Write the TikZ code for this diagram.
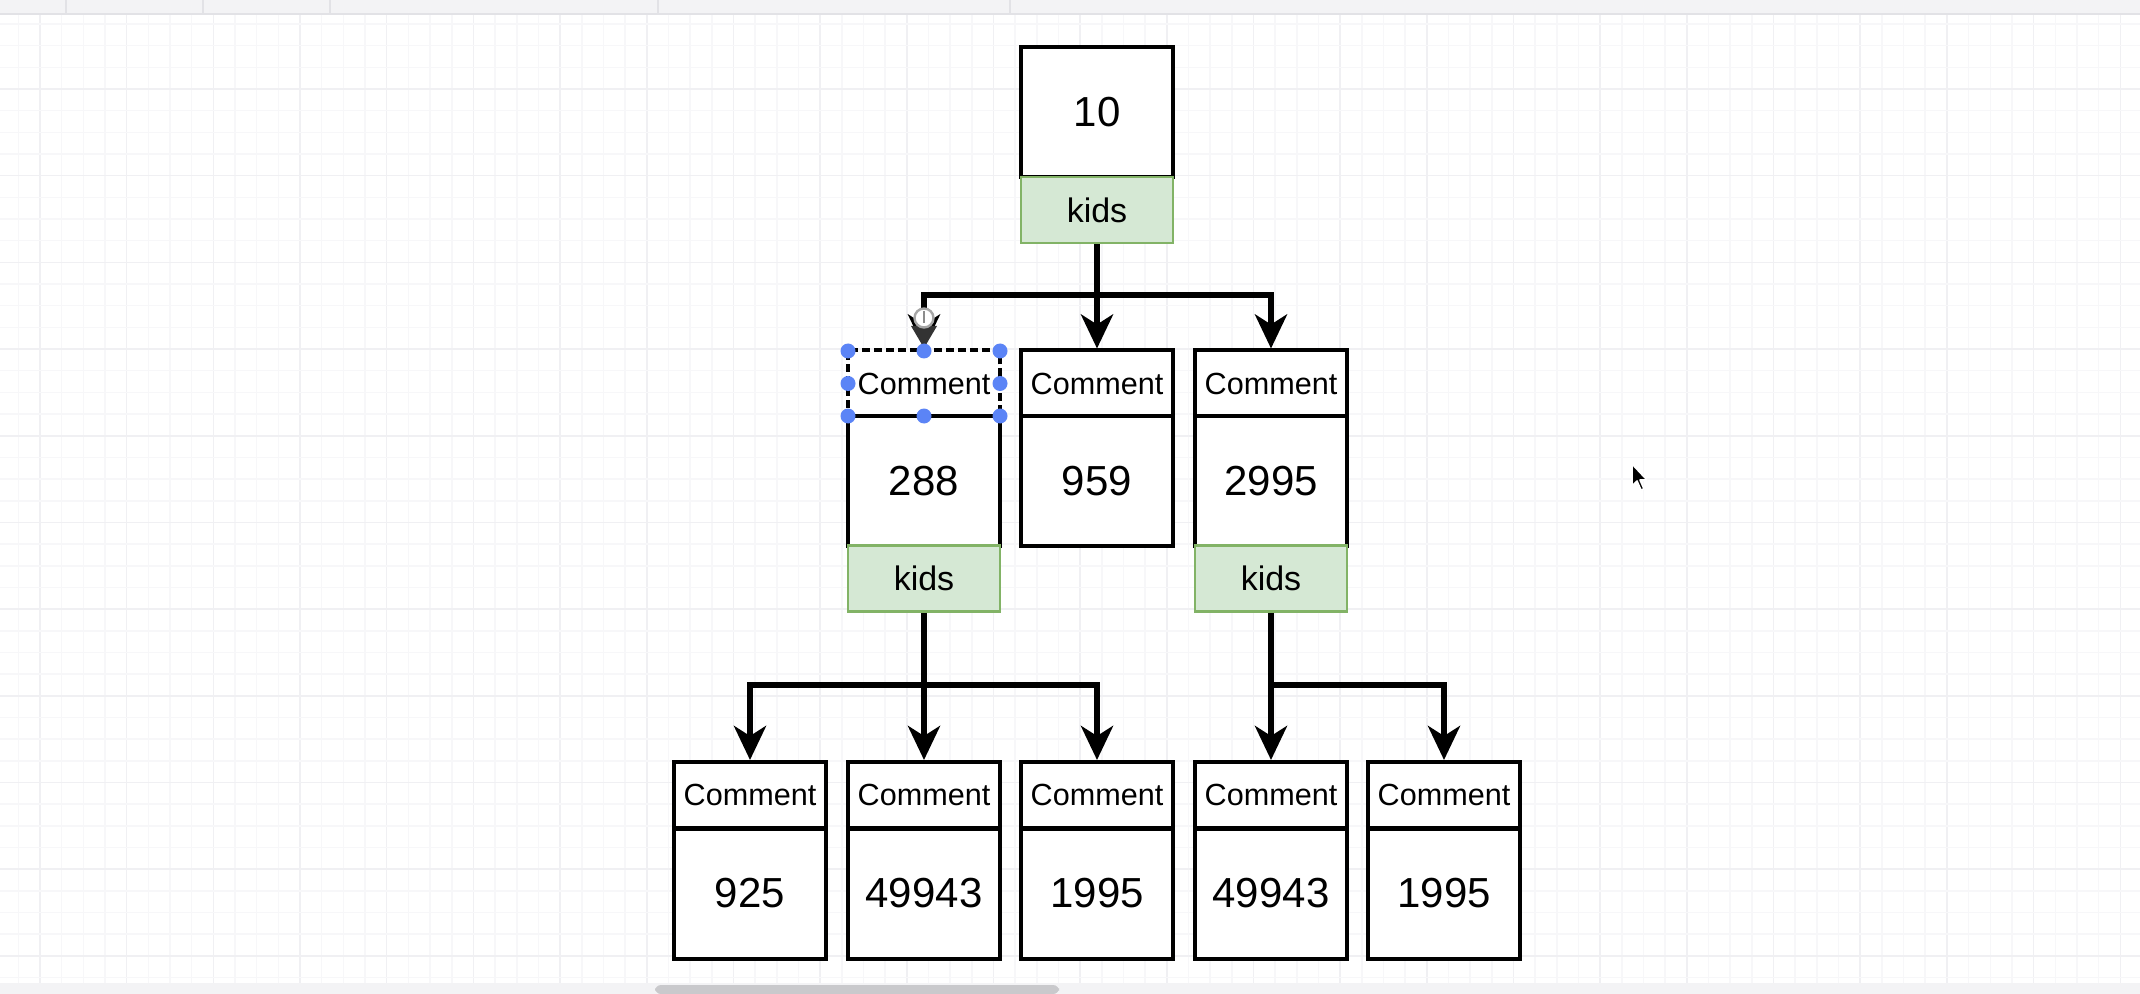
\documentclass[tikz,border=0pt]{standalone}
\usepackage{fontspec}
\setmainfont{Liberation Sans}
\usetikzlibrary{arrows.meta}
\definecolor{kidsfill}{HTML}{D5E8D4}
\definecolor{kidsborder}{HTML}{82B366}
\definecolor{gridminor}{HTML}{F7F7F9}
\definecolor{gridmajor}{HTML}{F0F0F3}
\definecolor{handle}{HTML}{5B84F6}
\definecolor{barbg}{HTML}{F3F3F5}
\definecolor{barline}{HTML}{E2E2E6}
\definecolor{thumb}{HTML}{C9C9CC}
\tikzset{
  hdr/.style={draw, line width=2pt, minimum width=76pt, minimum height=33pt, inner sep=0pt, fill=white, font=\fontsize{15.3}{18}\selectfont},
  val/.style={draw, line width=2pt, minimum width=76pt, minimum height=65pt, inner sep=0pt, fill=white, font=\fontsize{21}{25}\selectfont},
  kidsbox/.style={draw=kidsborder, fill=kidsfill, line width=1.4pt, minimum width=76pt, minimum height=33pt, inner sep=0pt, font=\fontsize{17}{20}\selectfont},
  arr/.style={line width=3.2pt, -{Stealth[length=17pt,width=16pt,inset=5pt]}},
  hdl/.style={fill=handle, draw=none},
}
\begin{document}
\begin{tikzpicture}[x=0.5pt,y=-0.5pt]
\useasboundingbox (0,0) rectangle (2140,994);
\fill[white] (0,0) rectangle (2140,994);
% grid
\foreach \i in {0,...,98}{
  \pgfmathsetmacro{\gx}{18.3+21.67*\i}
  \pgfmathtruncatemacro{\m}{mod(\i,4)}
  \ifnum\m=1
    \draw[gridmajor, line width=0.8pt] (\gx,14) -- (\gx,983);
  \else
    \draw[gridminor, line width=0.8pt] (\gx,14) -- (\gx,983);
  \fi
}
\foreach \j in {1,...,45}{
  \pgfmathsetmacro{\gy}{2.3+21.67*\j}
  \pgfmathtruncatemacro{\m}{mod(\j,4)}
  \ifnum\m=0
    \draw[gridmajor, line width=0.8pt] (0,\gy) -- (2140,\gy);
  \else
    \draw[gridminor, line width=0.8pt] (0,\gy) -- (2140,\gy);
  \fi
}
% top and bottom bars
\fill[barbg] (0,0) rectangle (2140,14);
\draw[barline, line width=1pt] (0,14) -- (2140,14);
\foreach \sx in {66,203,330,658,1010}{\draw[barline, line width=0.8pt] (\sx,0) -- (\sx,14);}
\fill[barbg] (0,983) rectangle (2140,994);
\fill[thumb, rounded corners=3pt] (655,985) rectangle (1059,994);

% top node
\node[val] (v0) at (1097,112) {10};
\node[kidsbox] (k0) at (1097,210) {kids};

% row 2
\node[hdr, dashed, dash pattern=on 4pt off 2pt] (h1) at (924,383.5) {Comment};
\node[val] (v1) at (924,481) {288};
\node[kidsbox] (k1) at (924,578.5) {kids};
\node[hdr] (h2) at (1097,383.5) {Comment};
\node[val] (v2) at (1097,481) {959};
\node[hdr] (h3) at (1271,383.5) {Comment};
\node[val] (v3) at (1271,481) {2995};
\node[kidsbox] (k3) at (1271,578.5) {kids};

% row 3
\node[hdr] (h4) at (750,795) {Comment};
\node[val] (v4) at (750,893.5) {925};
\node[hdr] (h5) at (924,795) {Comment};
\node[val] (v5) at (924,893.5) {49943};
\node[hdr] (h6) at (1097,795) {Comment};
\node[val] (v6) at (1097,893.5) {1995};
\node[hdr] (h7) at (1271,795) {Comment};
\node[val] (v7) at (1271,893.5) {49943};
\node[hdr] (h8) at (1444,795) {Comment};
\node[val] (v8) at (1444,893.5) {1995};

% connectors
\coordinate (j0) at (1097,295);
\coordinate (j1) at (924,685);
\coordinate (j3) at (1271,685);
\draw[arr] (k0.south) -- (h2.north);
\draw[arr] (j0) -| (h1.north);
\draw[arr] (j0) -| (h3.north);
\draw[arr] (k1.south) -- (h5.north);
\draw[arr] (j1) -| (h4.north);
\draw[arr] (j1) -| (h6.north);
\draw[arr] (k3.south) -- (h7.north);
\draw[arr] (j3) -| (h8.north);

% connection icon over the first arrow
\fill[black!80] (911,326) -- (937,326) -- (924,348) -- cycle;
\draw[gray!70, fill=white, line width=1.2pt] (924,318) circle (9.5);
\draw[gray!90, line width=1pt] (924,311) -- (924,323);

% selection handles
\foreach \hx in {848,924,1000}{
  \foreach \hy in {351,416}{\fill[hdl] (\hx,\hy) circle (7.5);}
}
\fill[hdl] (848,383.5) circle (7.5);
\fill[hdl] (1000,383.5) circle (7.5);

% mouse pointer
\draw[white, fill=black, line width=0.8pt, line join=round]
  (1632,464) -- (1632,486) -- (1637,481) -- (1641,490) -- (1644,489) -- (1640,480) -- (1647,480) -- cycle;
\end{tikzpicture}
\end{document}
